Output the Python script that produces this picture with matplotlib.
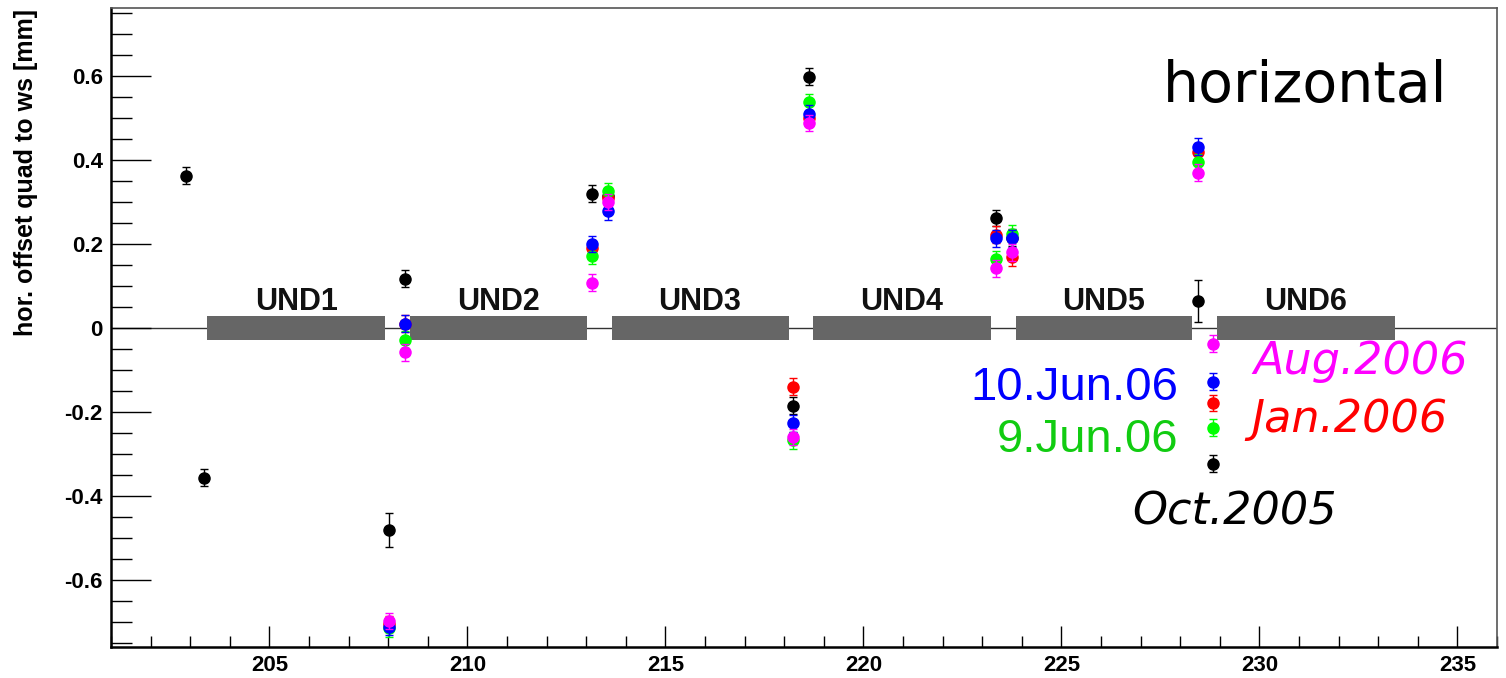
import numpy as np
import matplotlib
matplotlib.use("Agg")
import matplotlib.pyplot as plt
from matplotlib.ticker import MultipleLocator, FixedLocator, FuncFormatter

# Quadrupole positions along the beamline
quad_pos = [202.9, 203.35, 208.03, 208.43, 213.15, 213.54,
            218.23, 218.62, 223.36, 223.74, 228.44, 228.82]

nan = np.nan
# Horizontal offset (mm) per survey date
oct2005 = [0.363, -0.357, -0.482, 0.117, 0.320, 0.314,
           -0.185, 0.598, 0.262, 0.215, 0.063, -0.323]
oct2005_err = [0.02, 0.02, 0.04, 0.02, 0.02, 0.02,
               0.02, 0.02, 0.02, 0.02, 0.05, 0.02]
jan2006 = [nan, nan, -0.705, 0.010, 0.190, 0.310,
           -0.140, 0.500, 0.222, 0.168, 0.420, -0.179]
jun9_06 = [nan, nan, -0.715, -0.028, 0.172, 0.325,
           -0.268, 0.537, 0.163, 0.224, 0.395, -0.238]
jun10_06 = [nan, nan, -0.712, 0.010, 0.200, 0.278,
            -0.227, 0.510, 0.213, 0.213, 0.432, -0.128]
aug2006 = [nan, nan, -0.698, -0.058, 0.108, 0.300,
           -0.260, 0.488, 0.142, 0.180, 0.370, -0.038]
common_err = 0.02

# Undulator sections
und_names = ["UND1", "UND2", "UND3", "UND4", "UND5", "UND6"]
und_start = [203.43, 208.56, 213.64, 218.72, 223.85, 228.93]
und_end = [207.92, 213.03, 218.11, 223.21, 228.29, 233.42]

W, H = 1506, 678
fig = plt.figure(figsize=(W / 100, H / 100), dpi=100)
ax = fig.add_axes([111 / W, 1 - 647 / H, (1497 - 111) / W, (647 - 8) / H])

ax.set_xlim(201, 236)
ax.set_ylim(-0.76, 0.762)

# zero line and undulator blocks
ax.axhline(0, color="#333333", lw=1.0, zorder=1)
starts = np.array(und_start)
widths = np.array(und_end) - starts
ax.bar(starts, 0.058, width=widths, bottom=-0.029, align="edge",
       color="#666666", edgecolor="none", zorder=2)
for name, s, e in zip(und_names, und_start, und_end):
    ax.text((s + e) / 2, 0.042, name, ha="center", va="baseline",
            fontsize=22, fontweight="bold", family="Liberation Sans",
            color="#111111", zorder=3)

series = [
    (oct2005, oct2005_err, "#000000"),
    (jan2006, common_err, "#ff0000"),
    (jun9_06, common_err, "#00ff00"),
    (jun10_06, common_err, "#0000ff"),
    (aug2006, common_err, "#ff00ff"),
]
for k, (vals, err, col) in enumerate(series):
    ax.errorbar(quad_pos, vals, yerr=err, fmt="o", color=col, ms=8,
                mec=col, elinewidth=1.0, capsize=3, capthick=1.0,
                zorder=4 + k)

# ticks
ax.xaxis.set_major_locator(FixedLocator(list(range(205, 236, 5))))
ax.xaxis.set_minor_locator(MultipleLocator(1))
ax.yaxis.set_major_locator(FixedLocator([-0.6, -0.4, -0.2, 0.0, 0.2, 0.4, 0.6]))
ax.yaxis.set_minor_locator(MultipleLocator(0.05))
ax.yaxis.set_major_formatter(FuncFormatter(lambda v, p: "0" if abs(v) < 1e-9 else f"{v:.1f}"))
ax.xaxis.set_major_formatter(FuncFormatter(lambda v, p: f"{v:.0f}"))
ax.tick_params(axis="x", which="major", direction="in", length=15, width=1.0, pad=6)
ax.tick_params(axis="x", which="minor", direction="in", length=8, width=1.0)
ax.tick_params(axis="y", which="major", direction="in", length=29, width=1.0, pad=6)
ax.tick_params(axis="y", which="minor", direction="in", length=15, width=1.0)
for lab in ax.get_xticklabels() + ax.get_yticklabels():
    lab.set_fontfamily("Liberation Sans")
    lab.set_fontweight("bold")
    lab.set_fontsize(16)

for side in ("left", "bottom"):
    ax.spines[side].set_linewidth(1.8)
    ax.spines[side].set_color("black")
for side in ("top", "right"):
    ax.spines[side].set_linewidth(1.2)
    ax.spines[side].set_color("#555555")

fig.text(26 / W, 1 - 9 / H, "hor. offset quad to ws [mm]", rotation=90,
         ha="center", va="top", fontsize=18, fontweight="bold",
         family="Liberation Sans")

# annotations
ax.text(0.759, 0.853, "horizontal", transform=ax.transAxes, ha="left",
        va="baseline", fontsize=41, family="DejaVu Sans", color="black")
ax.text(0.824, 0.427, "Aug.2006", transform=ax.transAxes, ha="left",
        va="baseline", fontsize=32, family="DejaVu Sans", style="oblique",
        color="#ff00ff")
ax.text(0.770, 0.387, "10.Jun.06", transform=ax.transAxes, ha="right",
        va="baseline", fontsize=34, family="Liberation Sans", color="#0000ff")
ax.text(0.823, 0.336, "Jan.2006", transform=ax.transAxes, ha="left",
        va="baseline", fontsize=32, family="DejaVu Sans", style="oblique",
        color="#ff0000")
ax.text(0.770, 0.305, "9.Jun.06", transform=ax.transAxes, ha="right",
        va="baseline", fontsize=34, family="Liberation Sans", color="#11cc11")
ax.text(0.737, 0.191, "Oct.2005", transform=ax.transAxes, ha="left",
        va="baseline", fontsize=32, family="DejaVu Sans", style="oblique",
        color="black")

fig.savefig("out.png", dpi=100)
